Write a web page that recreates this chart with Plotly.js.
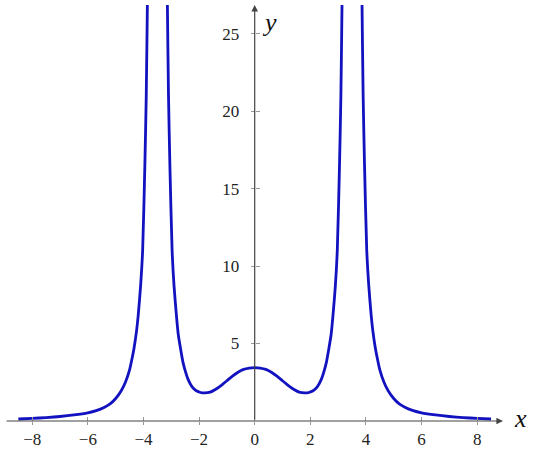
<!DOCTYPE html>
<html>
<head>
<meta charset="utf-8">
<script src="https://cdn.plot.ly/plotly-3.0.1.min.js"></script>
<style>html,body{margin:0;padding:0;background:#fff;}#chart{width:540px;height:464px;}</style>
</head>
<body>
<div id="chart"></div>
<script>
// Values (curve has poles near x = ±3.5; null breaks the line there)
const xLeft = [-8.5, -8.0, -7.5, -7.0, -6.5, -6.0, -5.7, -5.4, -5.2, -5.0, -4.8, -4.65, -4.5, -4.42, -4.34, -4.25, -4.19, -4.10, -4.03, -3.95, -3.90, -3.86, -3.80, -3.76];
const yLeft = [0.13, 0.17, 0.22, 0.29, 0.39, 0.53, 0.67, 0.89, 1.1, 1.45, 1.95, 2.5, 3.3, 3.95, 4.7, 5.8, 6.8, 8.8, 11.0, 16.5, 21.0, 26.85, 37, 50];
const xMid = [-3.24, -3.20, -3.14, -3.10, -3.05, -2.97, -2.90, -2.81, -2.75, -2.66, -2.58, -2.50, -2.40, -2.25, -2.10, -1.95, -1.80, -1.60, -1.40, -1.20, -1.00, -0.80, -0.60, -0.40, -0.20, 0.00,
              0.20, 0.40, 0.60, 0.80, 1.00, 1.20, 1.40, 1.60, 1.80, 1.95, 2.10, 2.25, 2.40, 2.50, 2.58, 2.66, 2.75, 2.81, 2.90, 2.97, 3.05, 3.10, 3.14, 3.20, 3.24];
const yMid = [50, 37, 26.85, 21.0, 16.5, 11.0, 8.7, 6.7, 5.6, 4.6, 3.8, 3.25, 2.7, 2.2, 1.95, 1.84, 1.81, 1.86, 2.05, 2.3, 2.6, 2.9, 3.15, 3.33, 3.42, 3.45,
              3.42, 3.33, 3.15, 2.9, 2.6, 2.3, 2.05, 1.86, 1.81, 1.84, 1.95, 2.2, 2.7, 3.25, 3.8, 4.6, 5.6, 6.7, 8.7, 11.0, 16.5, 21.0, 26.85, 37, 50];
const xRight = [3.76, 3.80, 3.86, 3.90, 3.95, 4.03, 4.10, 4.19, 4.25, 4.34, 4.42, 4.5, 4.65, 4.8, 5.0, 5.2, 5.4, 5.7, 6.0, 6.5, 7.0, 7.5, 8.0, 8.5];
const yRight = [50, 37, 26.85, 21.0, 16.5, 11.0, 8.8, 6.8, 5.8, 4.7, 3.95, 3.3, 2.5, 1.95, 1.45, 1.1, 0.89, 0.67, 0.53, 0.39, 0.29, 0.22, 0.17, 0.13];

const xTicks = [-8, -6, -4, -2, 0, 2, 4, 6, 8];
const yTicks = [5, 10, 15, 20, 25];
const xRange = [-8.98, 8.93];
const yRange = [0, 26.85];

const xs = xLeft.concat([null], xMid, [null], xRight);
const ys = yLeft.concat([null], yMid, [null], yRight);

const serif = 'Liberation Serif';
const yPos = (0 - xRange[0]) / (xRange[1] - xRange[0]);

const traces = [
  {x: xs, y: ys, type: 'scatter', mode: 'lines', connectgaps: false,
   line: {color: '#1212c0', width: 2.8, shape: 'spline', smoothing: 0.6},
   hoverinfo: 'skip', showlegend: false},
  {x: [null], y: [null], xaxis: 'x2', yaxis: 'y2', type: 'scatter', mode: 'lines', showlegend: false, hoverinfo: 'skip'}
];

const layout = {
  width: 540, height: 464,
  margin: {l: 5, r: 37, t: 5, b: 43},
  paper_bgcolor: '#fff', plot_bgcolor: '#fff',
  showlegend: false,
  font: {family: serif, size: 17, color: '#222'},
  xaxis: {range: xRange, tickvals: xTicks, ticktext: xTicks.map(v => v < 0 ? '\u2212' + Math.abs(v) : String(v)),
          showgrid: false, zeroline: false, showline: false,
          ticks: 'outside', ticklen: 3, tickcolor: '#999', tickwidth: 1,
          tickfont: {family: serif, size: 17, color: '#222'}, fixedrange: true},
  yaxis: {range: yRange, tickvals: yTicks, anchor: 'free', position: yPos,
          showgrid: false, zeroline: false, showline: false,
          ticks: 'outside', ticklen: 4, tickcolor: '#999', tickwidth: 1,
          ticklabelstandoff: 8,
          tickfont: {family: serif, size: 17, color: '#222'}, fixedrange: true},
  xaxis2: {overlaying: 'x', matches: 'x', range: xRange, anchor: 'y', tickvals: xTicks,
           showticklabels: false, showgrid: false, zeroline: false, showline: false,
           ticks: 'inside', ticklen: 4, tickcolor: '#999', tickwidth: 1},
  yaxis2: {overlaying: 'y', matches: 'y', range: yRange, anchor: 'free', position: yPos, side: 'right', tickvals: yTicks,
           showticklabels: false, showgrid: false, zeroline: false, showline: false,
           ticks: 'outside', ticklen: 4, tickcolor: '#999', tickwidth: 1},
  annotations: [
    {xref: 'x', yref: 'y', axref: 'x', ayref: 'y', x: xRange[1], y: 0, ax: xRange[0], ay: 0,
     showarrow: true, arrowhead: 2, arrowsize: 1.1, arrowwidth: 1.2, arrowcolor: '#444', text: ''},
    {xref: 'x', yref: 'y', axref: 'x', ayref: 'y', x: 0, y: yRange[1], ax: 0, ay: 0,
     showarrow: true, arrowhead: 2, arrowsize: 1.1, arrowwidth: 1.2, arrowcolor: '#444', text: ''},
    {xref: 'paper', yref: 'paper', x: 1.0355, y: 0.005, xanchor: 'center', yanchor: 'middle', showarrow: false,
     text: '<i>x</i>', font: {family: serif, size: 26, color: '#111'}},
    {xref: 'paper', yref: 'paper', x: 0.532, y: 0.957, xanchor: 'center', yanchor: 'middle', showarrow: false,
     text: '<i>y</i>', font: {family: serif, size: 26, color: '#111'}}
  ]
};

Plotly.newPlot('chart', traces, layout, {displayModeBar: false, staticPlot: true});
</script>
</body>
</html>
